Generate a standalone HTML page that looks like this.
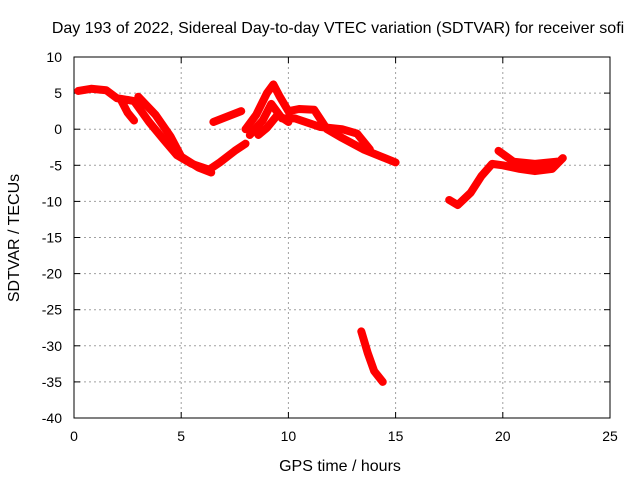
<!DOCTYPE html>
<html><head><meta charset="utf-8"><style>
body{margin:0;background:#fff;font-family:"Liberation Sans",sans-serif}
</style></head><body>
<svg width="640" height="480" viewBox="0 0 640 480" xmlns="http://www.w3.org/2000/svg">
<rect width="640" height="480" fill="#fff"/>
<g id="grid"></g>
<g id="axes"></g>
<g id="series"></g>
<text x="338" y="33" text-anchor="middle" font-size="16" fill="#000">Day 193 of 2022, Sidereal Day-to-day VTEC variation (SDTVAR) for receiver sofi</text>
<text x="340" y="471" text-anchor="middle" font-size="16" fill="#000">GPS time / hours</text>
<text x="19" y="238" text-anchor="middle" font-size="16" fill="#000" transform="rotate(-90 19 238)">SDTVAR / TECUs</text>
</svg>
<script>
const xTicks=[0,5,10,15,20,25];
const yTicks=[10,5,0,-5,-10,-15,-20,-25,-30,-35,-40];
const track1=[[0.2,5.3],[0.8,5.6],[1.5,5.4],[2,4.3],[2.8,3.9],[3.5,1],[4.2,-1.5],[4.8,-3.6],[5.5,-4.8],[6.3,-5.6],[6.8,-4.6],[7.5,-3],[8,-2]];
const track2=[[2.2,4],[2.5,2.3],[2.8,1.2]];
const track3=[[3,4.5],[3.8,2],[4.5,-1],[5,-3.8],[5.8,-5.3],[6.4,-6]];
const track4=[[6.5,1],[7.8,2.5]];
const track5=[[8,0],[8.5,2],[9,5],[9.3,6.2],[9.6,4.5],[10,2.5],[10.5,2.8],[11.2,2.7],[11.8,0],[12.5,-1.2],[13.5,-2.8],[14.5,-4],[15,-4.6]];
const track6=[[8.2,-0.8],[8.8,1.2],[9.2,3.5],[9.7,1.5],[10.3,1.5],[11.5,0.3],[12.5,0],[13.2,-0.6],[13.8,-2.8]];
const track7=[[8.6,-0.8],[9,0.2],[9.5,2],[10,1]];
const track8=[[13.4,-28],[13.7,-31],[14,-33.5],[14.4,-35]];
const track9=[[17.5,-9.8],[17.9,-10.5],[18.5,-8.8],[19,-6.5],[19.5,-4.8],[20,-5],[20.8,-5.5],[21.5,-5.8],[22.3,-5.5],[22.8,-4]];
const track10=[[19.8,-3],[20.5,-4.5],[21.5,-4.8],[22.5,-4.5]];
const tracks=[track1,track2,track3,track4,track5,track6,track7,track8,track9,track10];
const NS="http://www.w3.org/2000/svg";
const X0=74,X1=610,Y0=57,Y1=418;
function xs(h){return X0+(h-0)/(25-0)*(X1-X0);}
function ys(v){return Y0+(10-v)/(10-(-40))*(Y1-Y0);}
function mk(tag,attrs,parent){const e=document.createElementNS(NS,tag);for(const k in attrs)e.setAttribute(k,attrs[k]);parent.appendChild(e);return e;}
const grid=document.getElementById('grid'),axes=document.getElementById('axes'),series=document.getElementById('series');
xTicks.forEach(t=>{const x=xs(t);
 if(t>0&&t<25){const l=mk('line',{x1:x,y1:Y0,x2:x,y2:Y1,stroke:'#a0a0a0','stroke-dasharray':'2,3'},grid);
 
 }
 mk('line',{x1:x,y1:Y1,x2:x,y2:Y1-6,stroke:'#000'},axes);
 mk('line',{x1:x,y1:Y0,x2:x,y2:Y0+6,stroke:'#000'},axes);
 const tx=mk('text',{x:x,y:Y1+23,'text-anchor':'middle','font-size':'14'},axes);tx.textContent=t;
 
 });
yTicks.forEach(t=>{const y=ys(t);
 if(t<10&&t>-40){const l=mk('line',{x1:X0,y1:y,x2:X1,y2:y,stroke:'#a0a0a0','stroke-dasharray':'2,3'},grid);
 
 }
 mk('line',{x1:X0,y1:y,x2:X0+6,y2:y,stroke:'#000'},axes);
 mk('line',{x1:X1,y1:y,x2:X1-6,y2:y,stroke:'#000'},axes);
 const tx=mk('text',{x:X0-12,y:y+5,'text-anchor':'end','font-size':'14'},axes);tx.textContent=t;
 
 });
const frame=mk('rect',{x:X0,y:Y0,width:X1-X0,height:Y1-Y0,fill:'none',stroke:'#000'},axes);


tracks.forEach(tr=>{const p=mk('polyline',{points:tr.map(d=>xs(d[0])+','+ys(d[1])).join(' '),fill:'none',stroke:'#ff0000','stroke-width':'8','stroke-linejoin':'round','stroke-linecap':'round'},series);
 
 });
</script>
</body></html>
